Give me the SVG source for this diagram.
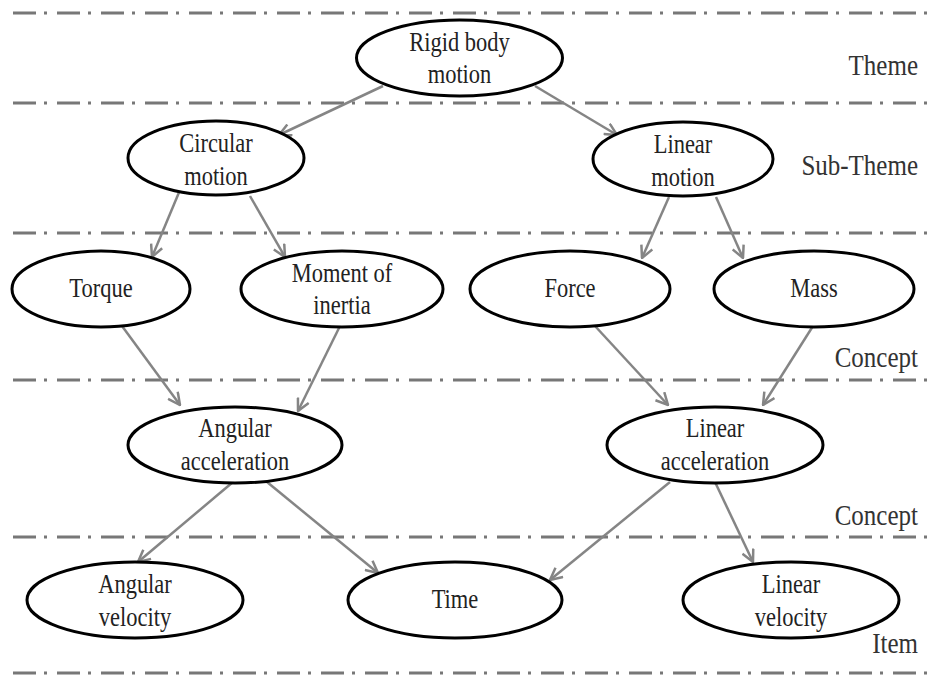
<svg xmlns="http://www.w3.org/2000/svg" width="927" height="677" viewBox="0 0 927 677">
  <style>
    .band { stroke: #777; stroke-width: 3; stroke-dasharray: 23 8 3 10; fill: none; }
    .node ellipse { fill: #fff; stroke: #000; stroke-width: 3; }
    .node text { font-family: "Liberation Serif", "Times New Roman", serif; font-size: 22.5px; fill: #222; text-anchor: middle; }
    .level { font-family: "Liberation Serif", "Times New Roman", serif; font-size: 25px; fill: #333; text-anchor: end; }
    .edge { stroke: #858585; stroke-width: 2.5; fill: none; marker-end: url(#chev); }
  </style>
  <defs>
    <marker id="chev" viewBox="0 0 14 14" refX="13" refY="7" markerWidth="14" markerHeight="14" markerUnits="userSpaceOnUse" orient="auto">
      <path d="M1,1 L13,7 L1,13" fill="none" stroke="#858585" stroke-width="2.5"/>
    </marker>
  </defs>
  <rect width="927" height="677" fill="#fff"/>

  <!-- hierarchy band separators -->
  <g id="bands">
    <line class="band" x1="13" y1="13" x2="927" y2="13"/>
    <line class="band" x1="13" y1="103" x2="927" y2="103"/>
    <line class="band" x1="13" y1="233" x2="927" y2="233"/>
    <line class="band" x1="13" y1="380" x2="927" y2="380"/>
    <line class="band" x1="13" y1="537" x2="927" y2="537"/>
    <line class="band" x1="13" y1="673" x2="927" y2="673"/>
  </g>

  <!-- level labels -->
  <g id="levels">
    <text class="level" transform="translate(918 75) scale(1 1.2)">Theme</text>
    <text class="level" transform="translate(918 175) scale(1 1.2)">Sub-Theme</text>
    <text class="level" transform="translate(918 367) scale(1 1.2)">Concept</text>
    <text class="level" transform="translate(918 525) scale(1 1.2)">Concept</text>
    <text class="level" transform="translate(918 653) scale(1 1.2)">Item</text>
  </g>

  <!-- connectors -->
  <g id="connectors">
    <line class="edge" x1="383" y1="86" x2="279" y2="135"/>
    <line class="edge" x1="535" y1="86" x2="617" y2="135"/>
    <line class="edge" x1="180" y1="190" x2="152" y2="257"/>
    <line class="edge" x1="250" y1="196" x2="285" y2="257"/>
    <line class="edge" x1="669" y1="197" x2="642" y2="258"/>
    <line class="edge" x1="716" y1="197" x2="743" y2="258"/>
    <line class="edge" x1="122" y1="326" x2="180" y2="405"/>
    <line class="edge" x1="340" y1="326" x2="298" y2="411"/>
    <line class="edge" x1="595" y1="326" x2="668" y2="405"/>
    <line class="edge" x1="813" y1="326" x2="763" y2="405"/>
    <line class="edge" x1="233" y1="482" x2="138" y2="562"/>
    <line class="edge" x1="267" y1="482" x2="378" y2="573"/>
    <line class="edge" x1="670" y1="482" x2="550" y2="580"/>
    <line class="edge" x1="715" y1="482" x2="753" y2="562"/>
  </g>

  <!-- nodes -->
  <g id="rigid-body-motion" class="node">
    <ellipse cx="459.5" cy="58" rx="103" ry="38"/>
    <text transform="translate(459.5 51) scale(1 1.18)">Rigid body</text>
    <text transform="translate(459.5 83) scale(1 1.18)">motion</text>
  </g>
  <g id="circular-motion" class="node">
    <ellipse cx="216" cy="158" rx="88" ry="37"/>
    <text transform="translate(216 152) scale(1 1.18)">Circular</text>
    <text transform="translate(216 185) scale(1 1.18)">motion</text>
  </g>
  <g id="linear-motion" class="node">
    <ellipse cx="683" cy="159" rx="90" ry="37"/>
    <text transform="translate(683 153) scale(1 1.18)">Linear</text>
    <text transform="translate(683 186) scale(1 1.18)">motion</text>
  </g>
  <g id="torque" class="node">
    <ellipse cx="101" cy="289" rx="89" ry="38"/>
    <text transform="translate(101 297) scale(1 1.18)">Torque</text>
  </g>
  <g id="moment-of-inertia" class="node">
    <ellipse cx="342" cy="289" rx="101" ry="38"/>
    <text transform="translate(342 282) scale(1 1.18)">Moment of</text>
    <text transform="translate(342 314) scale(1 1.18)">inertia</text>
  </g>
  <g id="force" class="node">
    <ellipse cx="570" cy="289" rx="100" ry="38"/>
    <text transform="translate(570 297) scale(1 1.18)">Force</text>
  </g>
  <g id="mass" class="node">
    <ellipse cx="814" cy="289" rx="100" ry="38"/>
    <text transform="translate(814 297) scale(1 1.18)">Mass</text>
  </g>
  <g id="angular-acceleration" class="node">
    <ellipse cx="235" cy="445" rx="107" ry="38"/>
    <text transform="translate(235 437) scale(1 1.18)">Angular</text>
    <text transform="translate(235 470) scale(1 1.18)">acceleration</text>
  </g>
  <g id="linear-acceleration" class="node">
    <ellipse cx="715" cy="445" rx="108" ry="38"/>
    <text transform="translate(715 437) scale(1 1.18)">Linear</text>
    <text transform="translate(715 470) scale(1 1.18)">acceleration</text>
  </g>
  <g id="angular-velocity" class="node">
    <ellipse cx="135" cy="600" rx="108" ry="38"/>
    <text transform="translate(135 593) scale(1 1.18)">Angular</text>
    <text transform="translate(135 626) scale(1 1.18)">velocity</text>
  </g>
  <g id="time" class="node">
    <ellipse cx="455" cy="600" rx="107" ry="38"/>
    <text transform="translate(455 608) scale(1 1.18)">Time</text>
  </g>
  <g id="linear-velocity" class="node">
    <ellipse cx="791" cy="600" rx="108" ry="38"/>
    <text transform="translate(791 593) scale(1 1.18)">Linear</text>
    <text transform="translate(791 626) scale(1 1.18)">velocity</text>
  </g>
</svg>
